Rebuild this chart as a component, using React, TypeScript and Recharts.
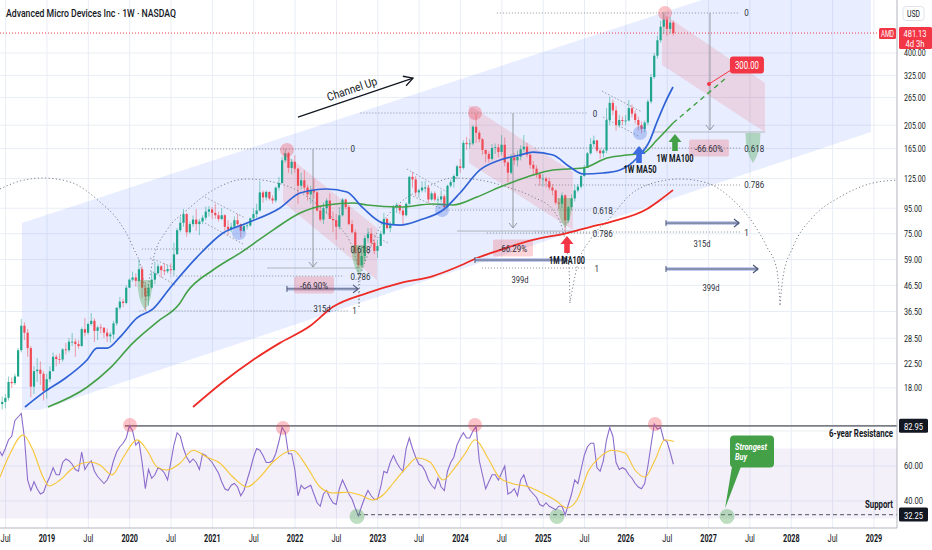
import React from 'react'
import {
  ComposedChart, Bar, Line, Area, XAxis, YAxis,
  ReferenceLine, ReferenceDot, ReferenceArea,
} from 'recharts'

const FONT = 'Roboto, "Liberation Sans", Arial, sans-serif'
const INK = '#131722'
const INK2 = '#2a2e39'
const GRID = '#e9edf5'
const AXIS = '#b2b5be'
const UP = '#1fa58c'
const DOWN = '#f04a55'
const RED = '#f23645'
const BLUE = '#2f62d6'
const GREEN = '#43a047'
const MA_RED = '#ee2a24'
const PURPLE = '#8b6ccc'
const YELLOW = '#f7c531'
const DOTS = '#8f929b'

// axis domains (years on x, log price on y)
const X0 = 2018.432
const X1 = 2029.2785
const P_MIN = 14.66
const P_MAX = 653.4
const R_MIN = 24.57
const R_MAX = 92

const xTicks = [2018.5, 2019, 2019.5, 2020, 2020.5, 2021, 2021.5, 2022, 2022.5, 2023, 2023.5,
  2024, 2024.5, 2025, 2025.5, 2026, 2026.5, 2027, 2027.5, 2028, 2028.5, 2029]
const priceTicks = [400, 325, 265, 205, 165, 125, 95, 75, 59, 46.5, 36.5, 28.5, 22.5, 18]
const rsiTicks = [60, 40]
const rsiGrid = [80, 60, 40]

// candles, two weeks apart from June 2018
const START = 2018.42
const STEP = 1 / 26

const closes = [
  15.5, 15.8, 16.4, 19.0, 18.8, 20.0, 25.5, 32.0, 30.0, 26.0, 18.2, 21.0, 21.3, 20.5, 17.5,
  19.5, 21.0, 24.0, 23.5, 23.4, 25.7, 25.5, 27.6, 27.6, 27.0, 26.5, 31.0, 30.0, 32.5, 33.5, 30.5, 31.5, 31.4, 30.0, 29.0, 29.5, 32.7, 37.8, 40.0, 39.5, 45.5,
  49.0, 50.0, 48.5, 54.0, 45.5, 42.0, 45.5, 49.0, 52.0, 55.5, 53.5, 53.0, 54.0, 53.5, 62.0, 77.5, 83.0, 90.0, 76.0, 82.0, 85.5, 82.0, 84.0, 87.0, 92.0, 94.0,
  91, 89, 86, 89, 80, 78, 80, 85, 82, 77, 80.5, 81, 86.5, 90, 93, 110, 105, 110.5, 104, 102, 115, 120, 148, 158, 138, 146,
  137, 117, 123, 115, 108, 112, 110, 93, 85.5, 95, 102, 86, 85, 80, 89, 103, 96, 82, 76, 63, 56, 61, 72, 75, 69, 64,
  67, 75, 86, 79, 82, 96, 98, 93, 89, 99, 127, 124, 110, 112, 115, 115, 103, 109, 103, 103, 106, 96, 117, 121, 128, 140,
  138, 174, 172, 173, 202, 191, 180, 163, 157, 150, 166, 167, 160, 171, 145, 132, 152, 148, 153, 164, 168, 156, 142, 137, 130, 125,
  125, 122, 115, 112, 100, 99, 107, 85, 96, 104, 112, 116, 128, 138, 158, 172, 178, 162, 158, 162, 215, 252, 235, 205, 215, 213,
  214, 240, 228, 215, 205, 198, 210, 255, 320, 390, 450, 510, 545, 500, 530, 481.13,
]
const highs = [
  16.5, 16.6, 17.0, 20.0, 19.8, 20.5, 26.0, 34.1, 33.0, 31.0, 26.5, 22.0, 23.7, 23.0, 21.0,
  20.5, 22.0, 25.0, 24.5, 24.7, 26.0, 27.3, 28.5, 29.9, 28.3, 28.0, 31.5, 34.3, 33.0, 36.0, 34.3, 32.0, 32.5, 31.6, 31.2, 30.2, 33.5, 38.0, 41.8, 41.0, 46.5,
  49.5, 52.8, 52.0, 59.2, 55.5, 48.0, 47.0, 53.0, 58.0, 57.0, 56.0, 57.0, 56.0, 57.0, 69.0, 79.0, 88.0, 94.3, 91.0, 84.0, 88.7, 94.3, 86.0, 89.0, 96.5, 97.0,
  96, 99, 92, 95, 90, 85, 83, 88, 90, 82.5, 83, 83.5, 87, 95, 99, 122, 112, 112, 111, 107, 116, 127, 153, 164.5, 160, 150,
  155, 138, 132, 135, 118, 117, 125, 111, 97, 100, 104, 109, 92, 90, 96, 104.5, 104, 98, 85, 78, 66, 67, 74, 79, 79, 71,
  71, 77, 91, 87, 84, 98, 100, 98, 95, 100, 128, 132.8, 128, 114, 122, 122, 118, 111, 111, 106, 112, 108, 118, 124, 130, 142,
  150, 178, 184, 180, 205, 227.3, 195, 182, 163, 161, 172, 173, 172, 187, 183, 147, 157, 158, 162, 170, 187, 174, 157, 147, 141, 130,
  130, 127, 126, 119, 113, 104, 110, 108, 97, 108, 118, 119, 129, 142, 160, 182, 186, 179, 165, 165, 240, 267, 260, 245, 225, 222,
  225, 259, 248, 235, 222, 212, 214, 260, 330, 400, 470, 540, 585, 560, 560, 540,
]
const lows = [
  13.5, 14.7, 14.9, 16.0, 18.0, 18.5, 20.0, 25.0, 28.0, 24.0, 16.5, 17.0, 19.0, 18.5, 16.0,
  16.3, 19.0, 21.0, 22.0, 22.5, 22.9, 24.5, 25.0, 26.5, 24.0, 25.9, 26.4, 29.0, 29.5, 32.0, 27.5, 28.0, 29.8, 28.5, 27.5, 27.4, 28.3, 32.0, 37.0, 38.0, 39.0,
  45.5, 48.0, 46.0, 48.0, 41.5, 36.8, 38.5, 45.0, 47.0, 51.5, 50.0, 51.0, 52.0, 51.5, 51.0, 62.0, 76.0, 80.0, 73.0, 75.0, 80.0, 77.0, 74.0, 82.0, 85.0, 88.0,
  86, 86, 84, 85, 77, 74, 76, 79, 80, 72.5, 76, 78, 80, 85, 87, 92, 100, 102, 102, 99, 100, 112, 119, 145, 132, 130,
  132, 99, 113, 110, 102, 99, 104, 92, 84, 82, 90, 86, 76, 71, 78, 88, 94, 81, 75, 62, 54.6, 55, 58, 69, 67, 62,
  60, 67, 74, 78, 76, 81, 91, 90, 81, 88, 98, 115, 106, 105, 110, 110, 100, 102, 101, 98, 100, 93, 95, 115, 115, 124,
  132, 136, 163, 165, 170, 174, 175, 156, 145, 145, 148, 157, 152, 155, 140, 121, 130, 142, 140, 148, 160, 152, 137, 130, 126, 117,
  116, 115, 112, 107, 98, 94, 95, 76.5, 83, 93, 101, 110, 114, 127, 138, 156, 167, 159, 150, 152, 158, 205, 225, 195, 200, 205,
  205, 212, 220, 208, 195, 190, 192, 205, 250, 315, 380, 440, 480, 470, 480, 470,
]

// RSI(14), one value per candle
const rsiValues = [
  69, 66, 70, 75, 77, 86, 88, 90, 76, 52, 46, 51, 47, 44, 45,
  50, 54, 59, 55, 55, 62, 64, 63, 61, 58, 57, 68, 58, 61, 63, 57, 54, 52, 50, 52, 56, 63, 68, 71, 73, 76,
  83, 80, 72, 74, 62, 47, 58, 53, 55, 59, 58, 56, 52, 62, 72, 79, 77, 70, 65, 62, 64, 62, 58, 67, 66, 64,
  62, 59, 56, 51, 47, 46, 49, 50, 48, 43, 46, 52, 58, 65, 70, 69, 66, 62, 62, 63, 67, 74, 82, 79, 67, 67,
  58, 43, 49, 47, 48, 49, 44, 39, 37, 44, 46, 42, 39, 38, 47, 52, 48, 44, 41, 36, 31.5, 37, 42, 46, 43, 41,
  41, 48, 57, 56, 62, 66, 62, 59, 57, 70, 76, 70, 65, 61, 60, 57, 52, 49, 47, 53, 48, 46, 57, 62, 65, 72,
  76, 79, 76, 76, 80, 82.5, 63, 55, 47, 51, 55, 55, 52, 56, 60, 44, 45, 47, 43, 52, 55, 49, 46, 44, 42, 38,
  37, 39, 37, 36, 35, 37, 37, 32, 38, 44, 52, 50, 58, 66, 71, 73, 73, 59, 57, 63, 75, 82, 77, 62, 58, 59,
  58, 55, 53, 50, 48, 47, 50, 60, 72, 84, 81, 82, 75, 74, 68, 61,
]
const rsiMaDates = [2018.432, 2018.553, 2018.71, 2018.831, 2018.952, 2019.025, 2019.158, 2019.315, 2019.52, 2019.641,
  2019.786, 2019.919, 2020.089, 2020.21, 2020.33, 2020.451, 2020.609, 2020.766, 2020.935, 2021.092,
  2021.249, 2021.419, 2021.576, 2021.733, 2021.975, 2022.144, 2022.301, 2022.459, 2022.628, 2022.785,
  2022.942, 2023.063, 2023.184, 2023.353, 2023.474, 2023.631, 2023.789, 2023.91, 2024.055, 2024.176,
  2024.345, 2024.466, 2024.623, 2024.829, 2024.986, 2025.143, 2025.288, 2025.409, 2025.554, 2025.675,
  2025.832, 2025.99, 2026.11, 2026.231, 2026.352, 2026.473, 2026.582]
const rsiMaValues = [53.7, 67, 77.7, 69, 53.7, 48.6, 52, 58.9, 62.3, 60.6,
  54.9, 64.6, 74.9, 69, 59.5, 57.7, 61.6, 69, 65, 61.6,
  53.7, 48, 53.7, 62.3, 69, 59.5, 48, 44.6, 45, 43.4,
  40.6, 43.4, 50, 59.5, 64.6, 62.3, 52, 57.7, 67, 75,
  63.4, 53.7, 50, 48, 44.6, 40.6, 36, 40.6, 57.7, 64.6,
  69, 67.4, 57.7, 53.7, 63.4, 75, 74]

// moving averages
const ma50Dates = [2018.734, 2018.952, 2019.242, 2019.484, 2019.605, 2019.726, 2019.883, 2020.089, 2020.282, 2020.488,
  2020.814, 2021.128, 2021.419, 2021.818, 2022.06, 2022.386, 2022.628, 2022.821, 2023.063, 2023.269,
  2023.51, 2023.789, 2023.994, 2024.236, 2024.478, 2024.72, 2024.877, 2025.119, 2025.324, 2025.482,
  2025.723, 2025.929, 2026.135, 2026.292, 2026.376, 2026.473, 2026.57]
const ma50Values = [15.07, 17.17, 19.9, 23.3, 26.0, 26.0, 28.8, 34.4, 37.4, 45.4,
  60.4, 75.5, 82.8, 95.2, 109.4, 113.5, 110.4, 95.2, 82.8, 81.3,
  85.2, 93.4, 109.4, 135.4, 148.4, 155.5, 159.8, 155.5, 139.1, 130.4,
  131.6, 135.4, 151.3, 178.6, 211.0, 251.6, 291.9]
const ma100Dates = [2019.012, 2019.484, 2019.762, 2020.04, 2020.33, 2020.609, 2020.693, 2021.008, 2021.334, 2021.733,
  2022.06, 2022.386, 2022.7, 2022.87, 2023.269, 2023.668, 2023.91, 2024.2, 2024.478, 2024.805,
  2025.119, 2025.482, 2025.772, 2026.014, 2026.207, 2026.376, 2026.57]
const ma100Values = [15.07, 18.1, 21.6, 27.3, 33.1, 39.5, 43.7, 53.6, 62.7, 77.6,
  90.9, 97.9, 99.7, 97.9, 96.1, 98.8, 97.9, 105.4, 115.6, 126.8,
  135.4, 137.8, 151.3, 155.5, 158.4, 178.6, 209.1]
const ma1mDates = [2020.766, 2021.128, 2021.491, 2021.818, 2022.181, 2022.459, 2022.87, 2023.269, 2023.668, 2023.958,
  2024.2, 2024.478, 2024.877, 2025.288, 2025.566, 2025.808, 2026.255, 2026.413, 2026.57]
const ma1mValues = [15.07, 19.0, 23.3, 27.3, 31.9, 38.1, 43.3, 47.5, 50.7, 55.1,
  59.9, 64.5, 70.8, 75.5, 79.8, 83.6, 94.3, 102.5, 112.4]

// drawings: [year, price]
const channelUp = [[2018.697, 13.87, 82.8], [2028.963, 192.4, 1092]]
const pinkChannels = [
  [[2021.854, 100.6, 159.9], [2022.991, 48.9, 79.1]],
  [[2024.103, 144.4, 247], [2025.36, 77.6, 132.8]],
  [[2026.437, 357.8, 579.3], [2027.682, 192.4, 302.9]],
]
const arcs = [
  [[2018.432, 113.5], [2018.674, 122.2], [2018.952, 125.7], [2019.278, 121.1], [2019.641, 100.6], [2019.883, 82.8], [2020.04, 66.3], [2020.161, 50.2], [2020.197, 40.6]],
  [[2020.197, 40.6], [2020.282, 58.8], [2020.451, 77.6], [2020.693, 93.4], [2020.971, 110.4], [2021.419, 124.5], [2021.733, 121.1], [2022.06, 110.4], [2022.301, 96.1], [2022.543, 79.8], [2022.7, 64.5], [2022.761, 53.6], [2022.773, 38.1]],
  [[2022.773, 38.1], [2022.785, 48.9], [2022.87, 60.4], [2023.027, 79.8], [2023.269, 99.7], [2023.595, 115.6], [2023.91, 125.7], [2024.236, 123.3], [2024.563, 115.6], [2024.877, 105.4], [2025.119, 93.4], [2025.264, 70.8], [2025.312, 55.1], [2025.324, 39.5]],
  [[2025.324, 39.5], [2025.409, 55.1], [2025.566, 70.8], [2025.808, 86.8], [2026.05, 107.4], [2026.376, 121.1], [2026.654, 124.5], [2026.981, 120.0], [2027.295, 102.5], [2027.537, 82.8], [2027.706, 66.3], [2027.827, 53.6], [2027.864, 38.8]],
  [[2027.864, 38.8], [2027.9, 50.2], [2028.021, 66.3], [2028.263, 87.6], [2028.589, 105.4], [2028.988, 120.0], [2029.278, 123.3]],
]
// [label, price, from, to, labelX]
const fibLevels: [string, number, number, number, number][] = [
  ['0', 164.4, 2020.15, 2022.63, 2022.67], ['0.618', 65.1, 2020.15, 2022.6, 2022.67],
  ['0.786', 50.7, 2020.49, 2022.58, 2022.67], ['1', 36.7, 2020.12, 2022.66, 2022.69],
  ['0', 229.4, 2022.79, 2025.53, 2025.6], ['0.618', 93.4, 2023.79, 2025.57, 2025.6],
  ['0.786', 75.5, 2024.32, 2025.57, 2025.6], ['1', 54.6, 2024.26, 2025.53, 2025.62],
  ['0', 579.3, 2024.44, 2027.38, 2027.43], ['0.618', 165.9, 2024.9, 2027.38, 2027.43],
  ['0.786', 117.8, 2024.9, 2027.38, 2027.43], ['1', 76.2, 2024.9, 2027.38, 2027.43],
]
const priceRanges = [[2022.217, 164.4, 55.1], [2024.635, 229.4, 79.1], [2027.017, 579.3, 196.0]]
const rangeBases = [[54.6, 2021.661, 2022.785], [76.9, 2023.958, 2025.409], [192.4, 2026.328, 2027.682]]
const dateRanges = [[45.0, 2021.902, 2022.761], [58.8, 2024.176, 2025.288], [82.8, 2026.485, 2027.368], [54.1, 2026.485, 2027.598]]
const dateLabels: [string, number, number][] = [['315d', 2022.325, 37.7], ['399d', 2024.72, 48.9], ['315d', 2026.921, 68.8], ['399d', 2027.029, 45.4]]
const dropLabels: [string, number, number][] = [['-66.90%', 2022.229, 46.7], ['-66.29%', 2024.635, 65.7], ['-66.60%', 2027.005, 165.9]]
const flags = [
  [2020.246, 59.9, 2020.548, 54.6], [2020.282, 52.6, 2020.548, 46.7],
  [2020.911, 105.4, 2021.395, 86.8], [2020.911, 82.8, 2021.37, 68.2],
  [2022.882, 76.2, 2023.124, 68.8],
  [2023.353, 136.6, 2023.837, 110.4], [2023.39, 107.4, 2023.752, 95.2],
  [2025.711, 281.1, 2026.195, 231.5], [2025.723, 221.0, 2026.171, 183.7],
]
const peakCircles = [[2021.902, 162.8], [2024.176, 229.4], [2026.473, 579.3]]
const touchCircles = [[2021.322, 75.5], [2023.777, 93.4], [2026.171, 190.6]]
const bottoms = [[2020.185, 48.9], [2022.773, 67.6], [2025.264, 104.4], [2027.537, 190.6]]
const rsiPeaks = [[2020.004, 83.4], [2021.854, 81.7], [2024.176, 83.4], [2026.352, 84]]
const rsiBottoms = [[2022.749, 31.2], [2025.167, 31.2], [2027.223, 31.2]]

const LAST = 481.13
const TARGET = 300
const RESISTANCE = 82.95
const SUPPORT = 32.25

const candles = closes.map((c, i) => ({
  t: START + i * STEP,
  o: i === 0 ? c : closes[i - 1], // weekly candles open on the previous close
  c, h: highs[i], l: lows[i], hl: [lows[i], highs[i]],
}))
const rsiData = rsiValues.map((v, i) => ({ t: START + i * STEP, v }))
const series = (d: number[], v: number[]) => d.map((t, i) => ({ t, v: v[i] }))
const band = (pts: number[][]) => pts.map(([t, lo, hi]) => ({ t, r: [lo, hi] }))

function Txt(p: any) {
  const { x, y, w, size = 9.5, weight = 400, anchor = 'start', fill = INK, italic, rotate, children } = p
  return (
    <text x={x} y={y} fontSize={size} fontWeight={weight} fontFamily={FONT}
      fontStyle={italic ? 'italic' : 'normal'} textAnchor={anchor} dominantBaseline="central"
      fill={fill} textLength={w} lengthAdjust="spacingAndGlyphs"
      transform={rotate ? `rotate(${rotate} ${x} ${y})` : undefined}>{children}</text>
  )
}

function Candle(p: any) {
  const { x, y, width, height, payload } = p
  if (!payload || y == null) return null
  const top = Math.min(y, y + height)
  const bot = Math.max(y, y + height)
  const span = Math.log(payload.h) - Math.log(payload.l)
  const at = (v: number) => span > 0 ? top + (Math.log(payload.h) - Math.log(v)) / span * (bot - top) : top
  const col = payload.c >= payload.o ? UP : DOWN
  const cx = x + width / 2
  const y1 = at(Math.max(payload.o, payload.c))
  const y2 = at(Math.min(payload.o, payload.c))
  return (
    <g>
      <line x1={cx} x2={cx} y1={top} y2={bot} stroke={col} strokeOpacity={0.65} strokeWidth={0.8} />
      <rect x={cx - 1.1} y={y1} width={2.2} height={Math.max(0.8, y2 - y1)} fill={col} />
    </g>
  )
}

const note = (key: string, x: number, y: number, text: string, w: number, o: any = {}) => (
  <ReferenceDot key={key} x={x} y={y} r={1} ifOverflow="visible" zIndex={700}
    shape={(p: any) => <Txt x={p.cx + (o.dx || 0)} y={p.cy + (o.dy || 0)} w={w} {...o}>{text}</Txt>} />
)
const mark = (key: string, x: number, y: number, draw: (cx: number, cy: number) => any, z = 650) => (
  <ReferenceDot key={key} x={x} y={y} r={1} ifOverflow="visible" zIndex={z}
    shape={(p: any) => draw(p.cx, p.cy)} />
)
const seg = (key: string, a: number[], b: number[], props: any) => (
  <ReferenceLine key={key} segment={[{ x: a[0], y: a[1] }, { x: b[0], y: b[1] }]} ifOverflow="visible" {...props} />
)

function PriceTick(p: any) {
  const s = Number(p.payload.value).toFixed(2)
  return <Txt x={p.x} y={p.y} w={s.length * 3.6} size={9.4}>{s}</Txt>
}
function RsiTick(p: any) {
  const s = Number(p.payload.value).toFixed(2)
  return <Txt x={p.x} y={p.y} w={19} size={9.4}>{s}</Txt>
}
function TimeTick(p: any) {
  const v = p.payload.value
  const year = Math.abs(v - Math.round(v)) < 1e-6
  return <Txt x={p.x} y={p.y + 2} w={year ? 16.5 : 10} size={10} weight={year ? 700 : 400} anchor="middle">{year ? String(Math.round(v)) : 'Jul'}</Txt>
}

function PriceChart() {
  return (
    <ComposedChart width={932} height={410} data={candles} margin={{ top: 0, right: 0, bottom: 0, left: 0 }}>
      <XAxis dataKey="t" type="number" domain={[X0, X1]} allowDataOverflow hide />
      <YAxis orientation="right" scale="log" domain={[P_MIN, P_MAX]} allowDataOverflow ticks={priceTicks}
        interval={0} width={35} tick={PriceTick} tickLine={false} tickSize={6} tickMargin={1} axisLine={{ stroke: AXIS }} />
      {xTicks.map(t => <ReferenceLine key={'gx' + t} x={t} stroke={GRID} zIndex={-100} />)}
      {priceTicks.map(v => <ReferenceLine key={'gy' + v} y={v} stroke={GRID} zIndex={-100} />)}

      <Area data={band(channelUp)} dataKey="r" type="linear" stroke="none" fill="#2962ff" fillOpacity={0.11}
        isAnimationActive={false} zIndex={50} />
      {pinkChannels.map((b, i) => (
        <Area key={'pk' + i} data={band(b)} dataKey="r" type="linear" stroke="none" fill={RED} fillOpacity={0.14}
          isAnimationActive={false} zIndex={60} />
      ))}
      {arcs.map((a, i) => (
        <Line key={'arc' + i} data={a.map(([t, v]) => ({ t, v }))} dataKey="v" type="monotone" stroke="#7d808a"
          strokeWidth={1} strokeDasharray="1.2 2.4" dot={false} isAnimationActive={false} zIndex={80} />
      ))}

      {fibLevels.map(([, p, a, b], i) => seg('fib' + i, [a, p], [b, p], { stroke: DOTS, strokeDasharray: '1 2', zIndex: 90 }))}
      {flags.map((f, i) => seg('fl' + i, [f[0], f[1]], [f[2], f[3]], { stroke: '#9a9da6', strokeDasharray: '1.5 2', zIndex: 90 }))}
      {priceRanges.map(([t, a, b], i) => seg('pr' + i, [t, a], [t, b], { stroke: '#9598a1', zIndex: 90 }))}
      {priceRanges.map(([t, , b], i) => mark('prh' + i, t, b, (cx, cy) => (
        <path d={`M ${cx - 4} ${cy - 5} L ${cx} ${cy} L ${cx + 4} ${cy - 5}`} fill="none" stroke="#9598a1" />), 90))}
      {rangeBases.map(([p, a, b], i) => seg('rb' + i, [a, p], [b, p], { stroke: '#b2b5be', zIndex: 90 }))}
      {seg('now', [X0, LAST], [X1, LAST], { stroke: RED, strokeDasharray: '1 2', zIndex: 95 })}

      <Bar dataKey="hl" barSize={3} shape={Candle} isAnimationActive={false} zIndex={300} />

      <Line data={series(ma1mDates, ma1mValues)} dataKey="v" type="monotone" stroke={MA_RED} strokeWidth={1.8}
        dot={false} isAnimationActive={false} zIndex={400} />
      <Line data={series(ma100Dates, ma100Values)} dataKey="v" type="monotone" stroke={GREEN} strokeWidth={1.6}
        dot={false} isAnimationActive={false} zIndex={400} />
      <Line data={series(ma50Dates, ma50Values)} dataKey="v" type="monotone" stroke={BLUE} strokeWidth={1.7}
        dot={false} isAnimationActive={false} zIndex={400} />
      {seg('proj', [2026.57, 209.1], [2027.223, 319.9], { stroke: GREEN, strokeWidth: 1.5, strokeDasharray: '5 4', zIndex: 400 })}

      {peakCircles.map(([t, p], i) => <ReferenceDot key={'pc' + i} x={t} y={p} r={7} fill={RED} fillOpacity={0.3} stroke="none" zIndex={500} />)}
      {touchCircles.map(([t, p], i) => <ReferenceDot key={'tc' + i} x={t} y={p} r={7} fill="#3d6be0" fillOpacity={0.3} stroke="none" zIndex={500} />)}
      {bottoms.map(([t, p], i) => mark('bt' + i, t, p, (cx, cy) => (
        <path d={`M ${cx - 7.5} ${cy} Q ${cx - 7.5} ${cy + 20} ${cx} ${cy + 30} Q ${cx + 7.5} ${cy + 20} ${cx + 7.5} ${cy} Z`}
          fill={GREEN} fillOpacity={0.35} />), 500))}

      {dateRanges.map(([p, a, b], i) => seg('drb' + i, [a, p], [b, p], { stroke: '#c3ccec', strokeWidth: 4, zIndex: 600 }))}
      {dateRanges.map(([p, a, b], i) => seg('drl' + i, [a, p], [b, p], { stroke: '#4b5675', strokeWidth: 1, zIndex: 601 }))}
      {dateRanges.map(([p, , b], i) => mark('dra' + i, b, p, (cx, cy) => (
        <path d={`M ${cx - 5} ${cy - 4} L ${cx} ${cy} L ${cx - 5} ${cy + 4}`} fill="none" stroke="#4b5675" strokeWidth={1.2} />), 602))}
      {dateRanges.map(([p, a], i) => mark('drt' + i, a, p, (cx, cy) => (
        <line x1={cx} x2={cx} y1={cy - 3} y2={cy + 3} stroke="#4b5675" />), 602))}
      {dateLabels.map(([s, t, p], i) => note('dl' + i, t, p, s, 17, { anchor: 'middle', fill: INK2 }))}
      {dropLabels.map(([s, t, p], i) => mark('dp' + i, t, p, (cx, cy) => (
        <g>
          <rect x={cx - 20} y={cy - 8.5} width={40} height={17} rx={2} fill={RED} fillOpacity={0.22} />
          <Txt x={cx} y={cy + 0.5} w={28} anchor="middle" fill={INK2}>{s}</Txt>
        </g>), 650))}

      {fibLevels.map(([s, p, , , lx], i) => note('fl' + i, lx, p, s, s.length === 1 ? 4.5 : 20, { fill: INK2 }))}

      {seg('chan', [2022.035, 221.0], [2023.426, 317.0], { stroke: INK, strokeWidth: 1.3, zIndex: 650 })}
      {mark('chanh', 2023.426, 317.0, (cx, cy) => (
        <path d="M -9 -5 L 0 0 L -9 5" transform={`translate(${cx} ${cy}) rotate(-18.7)`} fill="none" stroke={INK} strokeWidth={1.3} />))}
      {note('chant', 2022.688, 286.4, 'Channel Up', 52, { size: 11.5, anchor: 'middle', rotate: -18.7 })}

      {mark('uBlue', 2026.159, 169.0, (cx, cy) => (
        <path d={`M ${cx} ${cy} l 6.5 8 l -3.7 0 l 0 9 l -5.6 0 l 0 -9 l -3.7 0 Z`} fill="#3d6be0" />))}
      {mark('uGreen', 2026.594, 188.9, (cx, cy) => (
        <path d={`M ${cx} ${cy} l 6.5 8 l -3.7 0 l 0 9 l -5.6 0 l 0 -9 l -3.7 0 Z`} fill={GREEN} />))}
      {mark('uRed', 2025.288, 73.4, (cx, cy) => (
        <path d={`M ${cx} ${cy} l 6.5 8 l -3.7 0 l 0 9 l -5.6 0 l 0 -9 l -3.7 0 Z`} fill={RED} />))}
      {note('lb50', 2026.171, 136.6, '1W MA50', 33, { size: 10.5, weight: 700, anchor: 'middle' })}
      {note('lb100', 2026.594, 151.2, '1W MA100', 37, { size: 10.5, weight: 700, anchor: 'middle' })}
      {note('lb1m', 2025.288, 58.8, '1M MA100', 36, { size: 10.5, weight: 700, anchor: 'middle' })}

      {seg('tgl', [2027.005, TARGET], [2027.271, 341.6], { stroke: RED, zIndex: 650 })}
      <ReferenceDot x={2027.005} y={TARGET} r={2} fill={RED} stroke="none" zIndex={660} />
      {mark('tgb', 2027.464, 357.8, (cx, cy) => (
        <g>
          <rect x={cx - 17} y={cy - 8.5} width={34} height={17} rx={3} fill={RED} />
          <Txt x={cx} y={cy + 0.5} w={24} size={10} anchor="middle" fill="#fff">{TARGET.toFixed(2)}</Txt>
        </g>))}

      {mark('last', X1, LAST, (cx, cy) => (
        <g>
          <rect x={cx - 18} y={cy - 5} width={17} height={11} rx={1.5} fill={RED} />
          <Txt x={cx - 9.5} y={cy + 0.5} w={13} size={8.5} anchor="middle" fill="#fff">AMD</Txt>
          <rect x={cx + 2} y={cy - 6} width={33} height={22} rx={1.5} fill={RED} />
          <Txt x={cx + 18} y={cy + 0.5} w={23} size={9.4} anchor="middle" fill="#fff">{LAST.toFixed(2)}</Txt>
          <Txt x={cx + 18} y={cy + 10} w={19} size={9.4} anchor="middle" fill="#fff">4d 3h</Txt>
        </g>), 800)}
      {mark('usd', X1, 579.3, (cx, cy) => (
        <g>
          <rect x={cx + 6} y={cy - 6.5} width={21} height={14} rx={3} fill="#fff" stroke="#e0e3eb" />
          <Txt x={cx + 16.5} y={cy + 0.5} w={13} size={9.4} anchor="middle">USD</Txt>
        </g>), 800)}
    </ComposedChart>
  )
}

function RsiChart() {
  return (
    <ComposedChart width={932} height={140} data={rsiData} margin={{ top: 0, right: 0, bottom: 0, left: 0 }}>
      <XAxis dataKey="t" type="number" domain={[X0, X1]} allowDataOverflow ticks={xTicks} interval={0} height={22}
        tick={TimeTick} tickLine={false} tickSize={6} tickMargin={2} axisLine={{ stroke: AXIS }} />
      <YAxis orientation="right" domain={[R_MIN, R_MAX]} allowDataOverflow ticks={rsiTicks} interval={0} width={35}
        tick={RsiTick} tickLine={false} tickSize={6} tickMargin={1} axisLine={{ stroke: AXIS }} />
      {xTicks.map(t => <ReferenceLine key={'gx' + t} x={t} stroke={GRID} zIndex={-100} />)}
      {rsiGrid.map(v => <ReferenceLine key={'gy' + v} y={v} stroke={GRID} zIndex={-100} />)}
      <ReferenceArea y1={30} y2={70} fill={PURPLE} fillOpacity={0.1} stroke="none" zIndex={-90} />
      {seg('res', [2019.943, RESISTANCE], [X1, RESISTANCE], { stroke: '#7b7e87', strokeWidth: 1.6, zIndex: 90 })}
      {seg('sup', [2022.749, SUPPORT], [X1, SUPPORT], { stroke: '#6f727b', strokeWidth: 1.2, strokeDasharray: '4 3', zIndex: 90 })}

      <Line dataKey="v" type="linear" stroke={PURPLE} strokeWidth={1.1} dot={false} isAnimationActive={false} zIndex={400} />
      <Line data={series(rsiMaDates, rsiMaValues)} dataKey="v" type="monotone" stroke={YELLOW} strokeWidth={1.1}
        dot={false} isAnimationActive={false} zIndex={401} />

      {rsiPeaks.map(([t, v], i) => <ReferenceDot key={'rp' + i} x={t} y={v} r={7} fill={RED} fillOpacity={0.3} stroke="none" zIndex={500} />)}
      {rsiBottoms.map(([t, v], i) => <ReferenceDot key={'rb' + i} x={t} y={v} r={7.5} fill={GREEN} fillOpacity={0.35} stroke="none" zIndex={500} />)}

      {mark('buy', 2027.223, 31.2, (cx, cy) => (
        <g>
          <path d={`M ${cx + 5} ${cy - 50} L ${cx + 14} ${cy - 50} L ${cx - 2} ${cy - 8} Z`} fill="#43a047" />
          <rect x={cx + 3} y={cy - 81} width={44} height={32} rx={4} fill="#43a047" />
          <Txt x={cx + 8} y={cy - 69} w={32} size={9} weight={700} italic fill="#fff">Strongest</Txt>
          <Txt x={cx + 8} y={cy - 59} w={12} size={9} weight={700} italic fill="#fff">Buy</Txt>
        </g>), 700)}
      {note('resl', X1, RESISTANCE, '6-year Resistance', 64, { dx: -4, dy: 8, anchor: 'end', weight: 700, size: 10.3 })}
      {note('supl', X1, SUPPORT, 'Support', 28, { dx: -4, dy: -10, anchor: 'end', weight: 700, size: 10.3 })}
      {[RESISTANCE, SUPPORT].map(v => mark('ax' + v, X1, v, (cx, cy) => (
        <g>
          <rect x={cx + 2} y={cy - 7} width={29} height={14} rx={1.5} fill={INK} />
          <Txt x={cx + 16.5} y={cy + 0.5} w={19} size={9.4} anchor="middle" fill="#fff">{v.toFixed(2)}</Txt>
        </g>), 800))}
    </ComposedChart>
  )
}

export default function App() {
  return (
    <div style={{ position: 'absolute', left: 0, top: 0, width: 932, height: 550, background: '#fff', overflow: 'hidden' }}>
      <div style={{ position: 'absolute', left: 0, top: 0 }}><PriceChart /></div>
      <div style={{ position: 'absolute', left: 0, top: 410 }}><RsiChart /></div>
      <svg width={300} height={24} style={{ position: 'absolute', left: 0, top: 0, pointerEvents: 'none' }}>
        <Txt x={6} y={13} w={170} size={11.5} weight={500}>Advanced Micro Devices Inc · 1W · NASDAQ</Txt>
      </svg>
    </div>
  )
}
